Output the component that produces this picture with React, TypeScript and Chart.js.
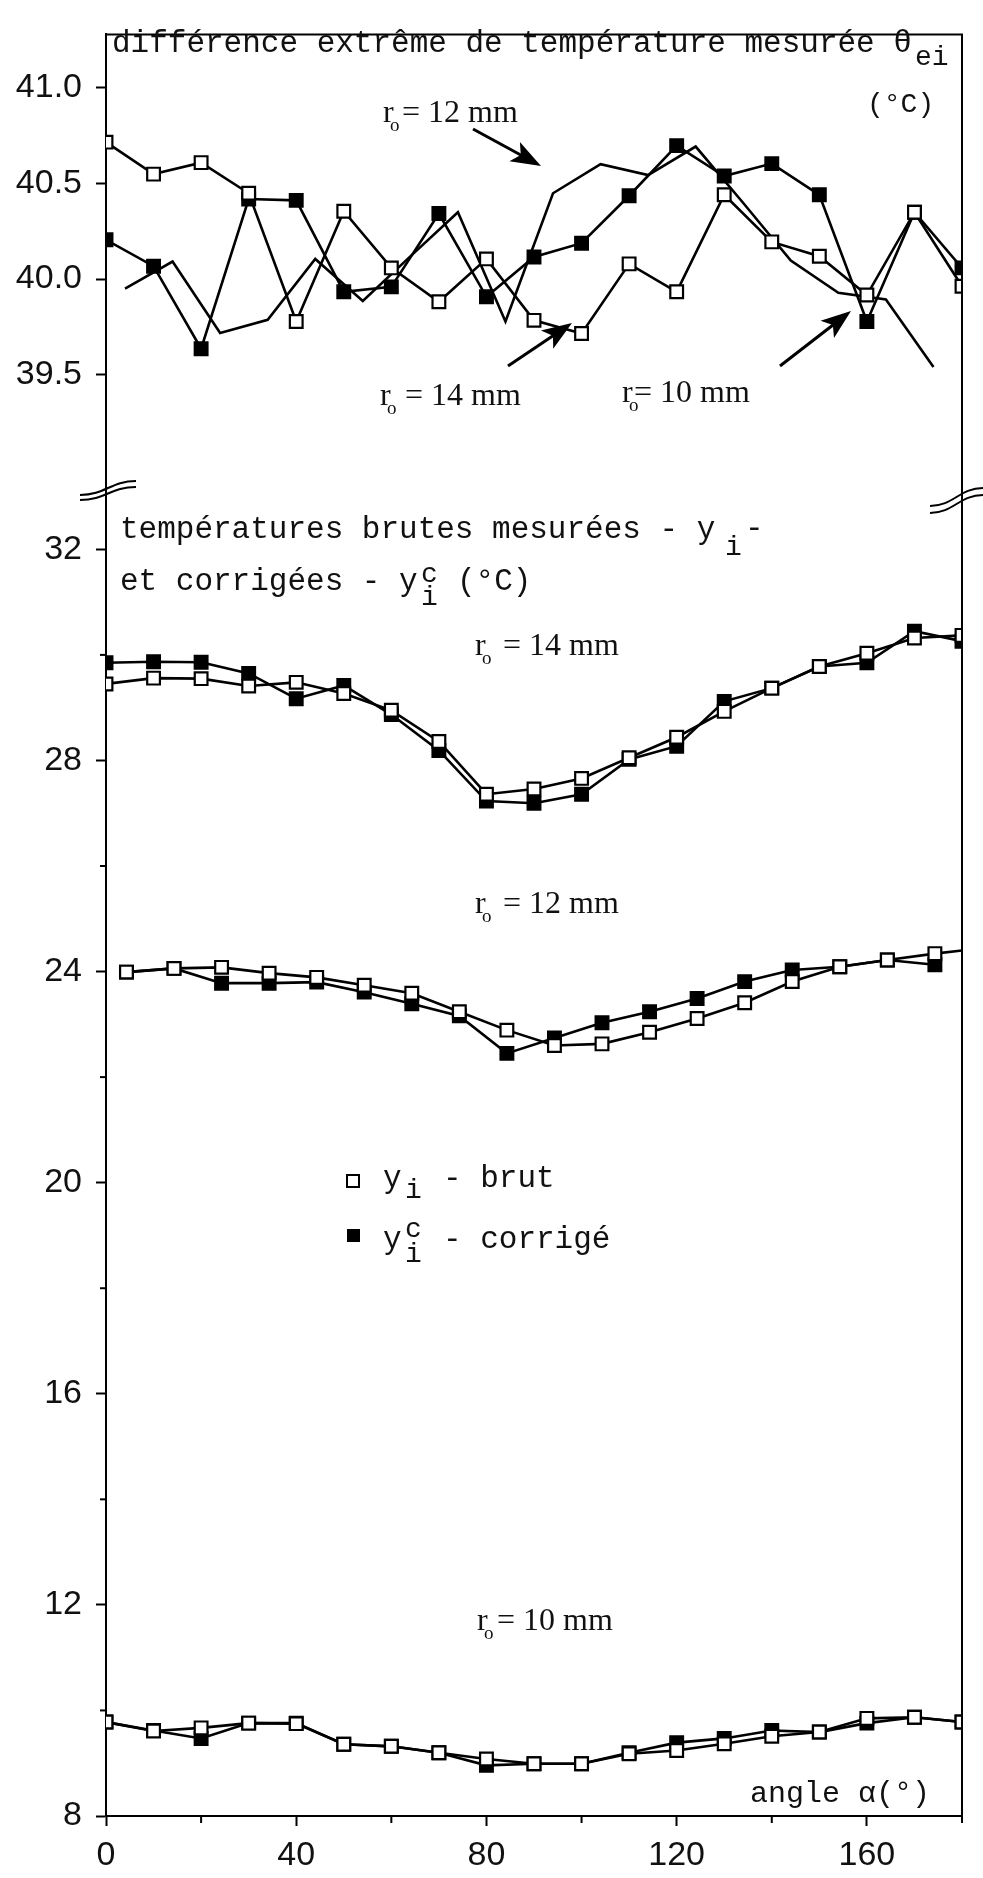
import React, { useEffect, useRef } from 'react';
import { Chart, registerables } from 'chart.js';

Chart.register(...registerables);

// ---------- data ----------
const angles = [0, 10, 20, 30, 40, 50, 60, 70, 80, 90, 100, 110, 120, 130, 140, 150, 160, 170, 180];
const anglesTop12 = [4, 14, 24, 34, 44, 54, 64, 74, 84, 94, 104, 114, 124, 134, 144, 154, 164, 174];
const anglesBot12 = [4.3, 14.3, 24.3, 34.3, 44.3, 54.3, 64.3, 74.3, 84.3, 94.3, 104.3, 114.3, 124.3, 134.3, 144.3, 154.3, 164.3, 174.3, 180];

// top panel: extreme measured temperature difference (°C)
const theta14 = [40.715, 40.548, 40.608, 40.448, 39.778, 40.354, 40.058, 39.881, 40.105, 39.784, 39.715, 40.079, 39.933, 40.44, 40.194, 40.119, 39.916, 40.349, 39.962];
const theta10 = [40.205, 40.067, 39.636, 40.418, 40.411, 39.933, 39.959, 40.342, 39.907, 40.115, 40.187, 40.435, 40.697, 40.538, 40.603, 40.44, 39.778, 40.349, 40.058];
const theta12 = [39.95, 40.091, 39.718, 39.787, 40.105, 39.885, 40.118, 40.349, 39.778, 40.448, 40.6, 40.543, 40.692, 40.397, 40.096, 39.928, 39.893, 39.54];

// bottom panel: raw (brut) and corrected (corrigé) temperatures (°C)
const brut14 = [29.45, 29.56, 29.55, 29.41, 29.48, 29.27, 28.95, 28.36, 27.36, 27.46, 27.66, 28.05, 28.44, 28.93, 29.37, 29.78, 30.03, 30.32, 30.37];
const corr14 = [29.85, 29.87, 29.86, 29.65, 29.17, 29.42, 28.87, 28.19, 27.23, 27.19, 27.36, 28.02, 28.27, 29.12, 29.37, 29.78, 29.85, 30.45, 30.26];
const brut12 = [23.99, 24.06, 24.08, 23.97, 23.89, 23.74, 23.59, 23.24, 22.89, 22.6, 22.63, 22.85, 23.11, 23.41, 23.81, 24.09, 24.22, 24.34, 24.4];
const corr12 = [23.99, 24.06, 23.78, 23.78, 23.8, 23.61, 23.39, 23.16, 22.45, 22.74, 23.03, 23.24, 23.49, 23.81, 24.03, 24.09, 24.22, 24.13];
const brut10 = [9.78, 9.61, 9.67, 9.76, 9.75, 9.36, 9.32, 9.2, 9.08, 8.99, 8.99, 9.18, 9.24, 9.37, 9.51, 9.59, 9.85, 9.87, 9.78];
const corr10 = [9.78, 9.62, 9.47, 9.76, 9.76, 9.36, 9.32, 9.2, 8.96, 8.99, 8.99, 9.2, 9.39, 9.47, 9.62, 9.59, 9.76, 9.87, 9.78];

// tick labels
const xLabelValues = [0, 40, 80, 120, 160];
const xMinorValues = [20, 60, 100, 140, 180];
const yTopLabelValues = [39.5, 40.0, 40.5, 41.0];
const yLabelValues = [8, 12, 16, 20, 24, 28, 32];
const yMinorValues = [10, 14, 18, 22, 26, 30];

// ---------- styles ----------
const MONO = '"Liberation Mono", "DejaVu Sans Mono", monospace';
const SERIF = '"Liberation Serif", "DejaVu Serif", serif';
const SANS = '"Liberation Sans", "DejaVu Sans", sans-serif';

const pts = (xs: number[], ys: number[]) => ys.map((y, i) => ({ x: xs[i], y }));

const base = {
  borderColor: '#000',
  borderWidth: 2.6,
  tension: 0,
  fill: false,
  pointStyle: 'rect',
  pointRadius: 9,
  pointBorderWidth: 2.2,
  pointBorderColor: '#000',
};
const openSq = { ...base, pointBackgroundColor: '#fff', backgroundColor: '#fff' };
const fillSq = { ...base, pointBackgroundColor: '#000', backgroundColor: '#000' };

function txt(ctx: CanvasRenderingContext2D, s: string, x: number, y: number, font: string) {
  ctx.font = font;
  ctx.fillText(s, x, y);
}

function rLabel(ctx: CanvasRenderingContext2D, x: number, baseY: number, rest: string, eqX: number) {
  txt(ctx, 'r', x, baseY, `32px ${SERIF}`);
  txt(ctx, 'o', x + 7, baseY + 9, `19px ${SERIF}`);
  txt(ctx, rest, eqX, baseY, `32px ${SERIF}`);
}

function arrow(ctx: CanvasRenderingContext2D, x1: number, y1: number, x2: number, y2: number) {
  const ang = Math.atan2(y2 - y1, x2 - x1);
  const L = 30, W = 11;
  const c = Math.cos(ang), s = Math.sin(ang);
  const bx = x2 - L * c, by = y2 - L * s;
  ctx.beginPath();
  ctx.moveTo(x1, y1);
  ctx.lineTo(bx + 8 * c, by + 8 * s);
  ctx.lineWidth = 3;
  ctx.stroke();
  ctx.beginPath();
  ctx.moveTo(x2, y2);
  ctx.lineTo(bx - W * s, by + W * c);
  ctx.lineTo(bx + 7 * c, by + 7 * s);
  ctx.lineTo(bx + W * s, by - W * c);
  ctx.closePath();
  ctx.fill();
}

const decoPlugin = {
  id: 'deco',
  afterDraw(chart: any) {
    const ctx: CanvasRenderingContext2D = chart.ctx;
    const { left, right, top, bottom } = chart.chartArea;
    const xs = chart.scales.x;
    const ys = chart.scales.y;
    ctx.save();
    ctx.strokeStyle = '#000';
    ctx.fillStyle = '#000';
    ctx.lineWidth = 2;
    // frame: top and right
    ctx.beginPath();
    ctx.moveTo(left - 1, top);
    ctx.lineTo(right, top);
    ctx.lineTo(right, bottom);
    ctx.stroke();
    // minor ticks
    for (const v of yMinorValues) {
      const p = ys.getPixelForValue(v);
      ctx.beginPath();
      ctx.moveTo(left - 6, p);
      ctx.lineTo(left, p);
      ctx.stroke();
    }
    for (const v of xMinorValues) {
      const p = xs.getPixelForValue(v);
      ctx.beginPath();
      ctx.moveTo(p, bottom);
      ctx.lineTo(p, bottom + 7);
      ctx.stroke();
    }
    // axis break marks
    const wave = (x0: number, y0: number, x1: number, y1: number) => {
      ctx.beginPath();
      ctx.moveTo(x0, y0);
      ctx.bezierCurveTo(x0 + (x1 - x0) * 0.45, y0, x0 + (x1 - x0) * 0.55, y1, x1, y1);
      ctx.stroke();
    };
    wave(80, 495, 136, 481);
    wave(80, 500, 136, 487);
    wave(930, 506, 983, 488);
    wave(930, 513, 983, 495);
    // arrows
    arrow(ctx, 473, 129, 541, 166);
    arrow(ctx, 508, 366, 572, 323);
    arrow(ctx, 780, 366, 851, 311);

    // texts
    ctx.textBaseline = 'alphabetic';
    ctx.textAlign = 'left';
    ctx.fillStyle = '#111';
    txt(ctx, 'différence extrême de température mesurée θ', 112, 52, `31px ${MONO}`);
    txt(ctx, 'ei', 915, 65, `28px ${MONO}`);
    txt(ctx, '(°C)', 867, 112, `28px ${MONO}`);

    rLabel(ctx, 383, 122, '= 12 mm', 402);
    rLabel(ctx, 380, 405, '= 14 mm', 405);
    rLabel(ctx, 622, 402, '= 10 mm', 634);
    rLabel(ctx, 475, 655, '= 14 mm', 503);
    rLabel(ctx, 475, 913, '= 12 mm', 503);
    rLabel(ctx, 477, 1630, '= 10 mm', 497);

    txt(ctx, 'températures brutes mesurées - y', 120, 538, `31px ${MONO}`);
    txt(ctx, 'i', 725, 555, `28px ${MONO}`);
    txt(ctx, '-', 745, 537, `31px ${MONO}`);
    txt(ctx, 'et corrigées - y', 120, 590, `31px ${MONO}`);
    txt(ctx, 'c', 421, 582, `28px ${MONO}`);
    txt(ctx, 'i', 421, 605, `28px ${MONO}`);
    txt(ctx, '(°C)', 457, 590, `31px ${MONO}`);

    // legend
    ctx.lineWidth = 2;
    ctx.fillStyle = '#fff';
    ctx.fillRect(347, 1175, 12, 12);
    ctx.strokeRect(347, 1175, 12, 12);
    ctx.fillStyle = '#000';
    ctx.fillRect(347, 1229, 13, 13);
    ctx.fillStyle = '#111';
    txt(ctx, 'y', 383, 1187, `31px ${MONO}`);
    txt(ctx, 'i', 405, 1198, `28px ${MONO}`);
    txt(ctx, '- brut', 443, 1187, `31px ${MONO}`);
    txt(ctx, 'y', 383, 1248, `31px ${MONO}`);
    txt(ctx, 'c', 405, 1237, `28px ${MONO}`);
    txt(ctx, 'i', 405, 1262, `28px ${MONO}`);
    txt(ctx, '- corrigé', 443, 1248, `31px ${MONO}`);

    txt(ctx, 'angle α(°)', 750, 1802, `30px ${MONO}`);
    ctx.restore();
  },
};

export default function App() {
  const ref = useRef<HTMLCanvasElement | null>(null);

  useEffect(() => {
    if (!ref.current) return;
    const tickFont = { family: SANS, size: 34 };
    const chart = new Chart(ref.current, {
      type: 'line',
      data: {
        datasets: [
          { ...openSq, label: 'θei r0=14 mm', data: pts(angles, theta14), yAxisID: 'yTop' },
          { ...fillSq, label: 'θei r0=10 mm', data: pts(angles, theta10), yAxisID: 'yTop' },
          { ...base, pointRadius: 0, label: 'θei r0=12 mm', data: pts(anglesTop12, theta12), yAxisID: 'yTop' },
          { ...openSq, label: 'yi brut r0=14 mm', data: pts(angles, brut14), yAxisID: 'y' },
          {
            ...openSq,
            label: 'yi brut r0=12 mm',
            data: pts(anglesBot12, brut12),
            yAxisID: 'y',
            pointRadius: (c: any) => (c.dataIndex === brut12.length - 1 ? 0 : 9),
          },
          { ...openSq, label: 'yi brut r0=10 mm', data: pts(angles, brut10), yAxisID: 'y' },
          { ...fillSq, label: 'yic corrigé r0=14 mm', data: pts(angles, corr14), yAxisID: 'y' },
          { ...fillSq, label: 'yic corrigé r0=12 mm', data: pts(anglesBot12, corr12), yAxisID: 'y' },
          { ...fillSq, label: 'yic corrigé r0=10 mm', data: pts(angles, corr10), yAxisID: 'y' },
        ] as any,
      },
      options: {
        animation: false,
        responsive: false,
        events: [],
        layout: { padding: { top: 10, right: 21, left: 0, bottom: 0 } },
        plugins: { legend: { display: false }, tooltip: { enabled: false } },
        scales: {
          x: {
            type: 'linear',
            position: 'bottom',
            min: 0,
            max: 180,
            border: { color: '#000', width: 2 },
            grid: {
              drawOnChartArea: false,
              drawTicks: true,
              tickLength: 10,
              tickWidth: 2,
              color: '#000',
              tickColor: (c: any) => (c.tick && xLabelValues.includes(c.tick.value) ? '#000' : 'rgba(0,0,0,0)'),
            },
            ticks: {
              stepSize: 20,
              color: '#111',
              font: tickFont,
              padding: 9,
              maxRotation: 0,
              autoSkip: false,
              callback: (v: any) => (xLabelValues.includes(Number(v)) ? String(v) : ''),
            },
            afterFit: (s: any) => {
              s.height = 62;
            },
          },
          y: {
            type: 'linear',
            position: 'left',
            stack: 'panels',
            stackWeight: 1326,
            min: 8,
            max: 32.785,
            border: { color: '#000', width: 2 },
            grid: {
              drawOnChartArea: false,
              drawTicks: true,
              tickLength: 10,
              tickWidth: 2,
              color: '#000',
              tickColor: (c: any) => (c.tick && yLabelValues.includes(c.tick.value) ? '#000' : 'rgba(0,0,0,0)'),
            },
            ticks: {
              stepSize: 2,
              includeBounds: false,
              color: '#111',
              font: tickFont,
              padding: 14,
              autoSkip: false,
              callback: (v: any) => (yLabelValues.includes(Number(v)) ? String(v) : ''),
            },
            afterFit: (s: any) => {
              s.width = 106;
            },
          },
          yTop: {
            type: 'linear',
            position: 'left',
            stack: 'panels',
            stackWeight: 480,
            min: 38.804,
            max: 41.278,
            border: { color: '#000', width: 2 },
            grid: {
              drawOnChartArea: false,
              drawTicks: true,
              tickLength: 10,
              tickWidth: 2,
              color: '#000',
            },
            ticks: {
              stepSize: 0.5,
              includeBounds: false,
              color: '#111',
              font: tickFont,
              padding: 14,
              autoSkip: false,
              callback: (v: any) => Number(v).toFixed(1),
            },
            afterBuildTicks: (s: any) => {
              s.ticks = s.ticks.filter((t: any) => yTopLabelValues.some((v) => Math.abs(v - t.value) < 1e-6));
            },
            afterFit: (s: any) => {
              s.width = 106;
            },
          },
        } as any,
      },
      plugins: [decoPlugin],
    });
    return () => chart.destroy();
  }, []);

  return (
    <div style={{ position: 'absolute', left: 0, top: 0, width: 983, height: 1878, background: '#fff' }}>
      <canvas ref={ref} width={983} height={1878} style={{ width: 983, height: 1878, display: 'block' }} />
    </div>
  );
}
